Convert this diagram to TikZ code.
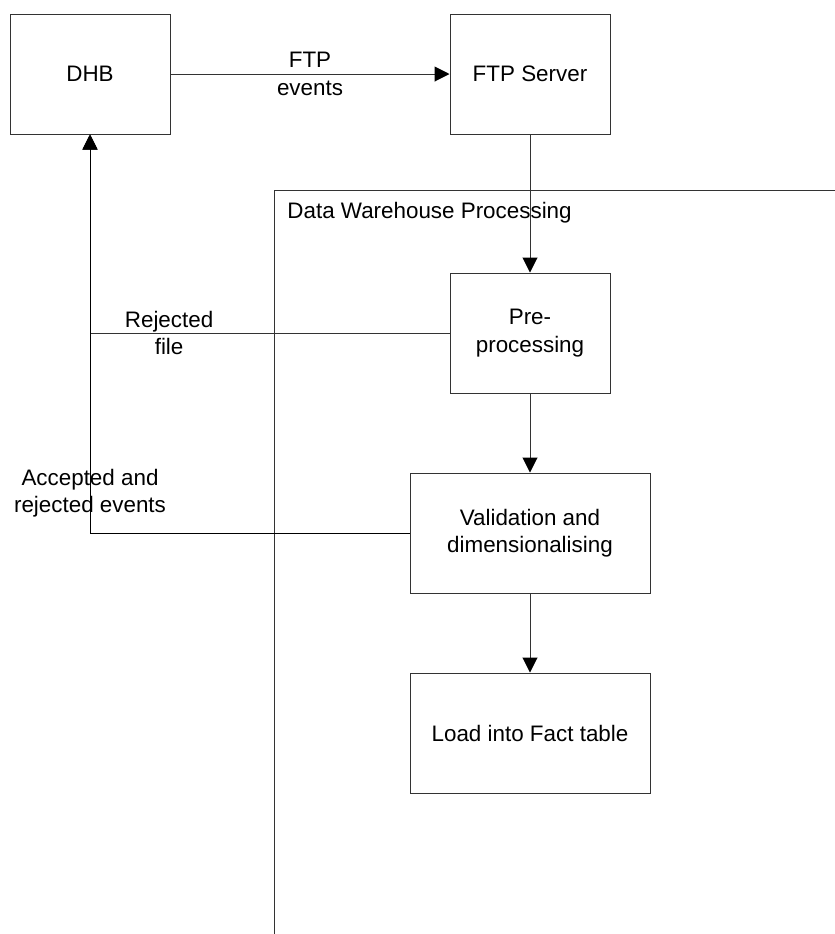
\documentclass[tikz,border=0pt]{standalone}
\usepackage{fontspec}
\setmainfont{Liberation Sans}
\usetikzlibrary{arrows.meta}

\begin{document}
\begin{tikzpicture}[x=0.5pt,y=-0.5pt,
  every node/.style={font=\fontsize{11.2}{13.7}\selectfont},
  box/.style={draw=black!80, line width=0.5pt, minimum width=80pt, minimum height=60pt, align=center, inner sep=0pt},
  widebox/.style={box, minimum width=120pt},
  lbl/.style={align=center, inner sep=0pt},
  link/.style={draw=black!80, line width=0.5pt},
  flow/.style={link, -{Triangle[length=7.5pt,width=7.5pt,color=black]}}]
\useasboundingbox (0,0) rectangle (835,934);

\node[box] (dhb) at (90,74) {DHB};
\node[box] (ftp) at (530,74) {FTP Server};

\draw[link] (274,934) -- (274,190) -- (835,190);
\node[lbl, anchor=west] (dwp) at (287,213) {Data Warehouse Processing};

\node[box] (pre) at (530,333) {Pre-\\processing};
\node[widebox] (val) at (530,533) {Validation and\\dimensionalising};
\node[widebox] (load) at (530,733) {Load into Fact table};

\draw[flow] (dhb) -- node[lbl] (ftplbl) {FTP\\events} (ftp);
\draw[flow] (ftp) -- (pre);
\draw[flow] (pre) -- (val);
\draw[flow] (val) -- (load);

\coordinate (rejturn) at (dhb.south |- pre.west);
\coordinate (accturn) at (dhb.south |- val.west);
\draw[flow] (pre.west) -- node[lbl, pos=0.78] (rejlbl) {Rejected\\file} (rejturn) -- (dhb.south);
\draw[flow, draw=black] (val.west) -- (accturn) -- (dhb.south);
\node[lbl] (acclbl) at (90,493) {Accepted and\\rejected events};
\end{tikzpicture}
\end{document}
